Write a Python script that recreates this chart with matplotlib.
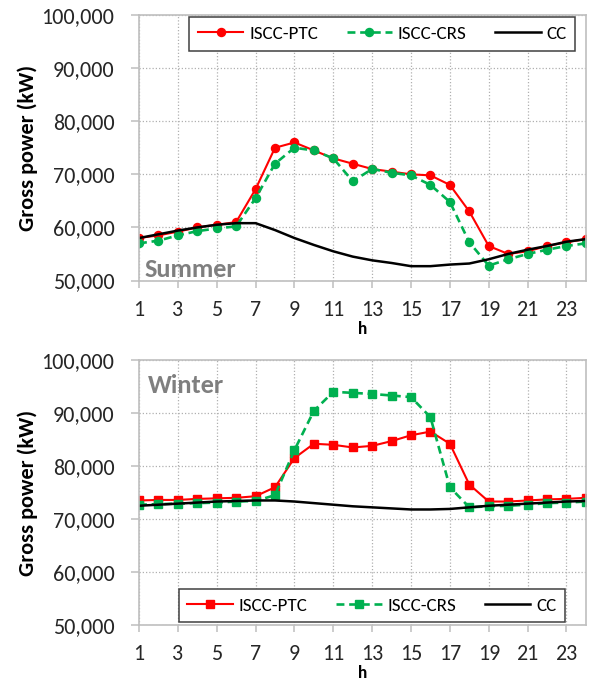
import numpy as np
import matplotlib.pyplot as plt
from matplotlib import font_manager as fm
from matplotlib.ticker import FuncFormatter

# ---- datos ----
horas = np.arange(1, 25)

verano_ptc = [58000, 58500, 59200, 60000, 60500, 61000, 67200, 75000, 76000, 74500, 73000, 72000,
              71000, 70500, 70000, 69800, 68000, 63000, 56500, 55000, 55500, 56500, 57200, 57800]
verano_crs = [57000, 57500, 58500, 59300, 59800, 60200, 65500, 72000, 75000, 74500, 73000, 68700,
              71000, 70300, 69800, 68000, 64800, 57200, 52800, 54000, 55000, 55800, 56500, 57000]
verano_cc = [58000, 58700, 59400, 60000, 60500, 60800, 60800, 59500, 58000, 56700, 55500, 54500,
             53800, 53300, 52700, 52700, 53000, 53200, 54000, 55000, 55800, 56500, 57300, 57800]

invierno_ptc = [73500, 73600, 73600, 73800, 73900, 74000, 74300, 76000, 81500, 84200, 84000, 83500,
                83800, 84700, 85800, 86500, 84200, 76500, 73300, 73300, 73500, 73700, 73800, 74000]
invierno_crs = [72700, 72800, 72900, 73000, 73100, 73300, 73400, 74500, 83000, 90400, 94000, 93800,
                93600, 93300, 93000, 89200, 76000, 72200, 72400, 72500, 72700, 73000, 73100, 73300]
invierno_cc = [72500, 72700, 72900, 73100, 73300, 73400, 73500, 73500, 73300, 73000, 72700, 72400,
               72200, 72000, 71800, 71800, 71900, 72200, 72500, 72700, 72900, 73100, 73300, 73400]

ROJO = '#FF0000'
VERDE = '#00B050'
GRIS = '#BFBFBF'

# Carlito si existe (metricas de Calibri), si no Open Sans algo mas pequena
instaladas = {f.name for f in fm.fontManager.ttflist}
if 'Carlito' in instaladas:
    plt.rcParams['font.family'] = ['Carlito', 'DejaVu Sans']
    k = 1.0
else:
    plt.rcParams['font.family'] = ['Open Sans', 'DejaVu Sans']
    k = 0.86

fig = plt.figure(figsize=(5.97, 6.83), dpi=100)
ax1 = fig.add_axes([0.2328, 0.5893, 0.7486, 0.3887])
ax2 = fig.add_axes([0.2328, 0.0849, 0.7486, 0.3880])

fmt = FuncFormatter(lambda v, p: f"{int(v):,}")


def estilo(ax):
    ax.set_xlim(1, 24)
    ax.set_ylim(50000, 100000)
    ax.set_xticks(np.arange(1, 24, 2))
    ax.set_yticks(np.arange(50000, 100001, 10000))
    ax.yaxis.set_major_formatter(fmt)
    ax.grid(True, linestyle=(0, (1, 1.6)), color='#B0B0B0', linewidth=0.9)
    ax.set_axisbelow(True)
    for s in ax.spines.values():
        s.set_color(GRIS)
        s.set_linewidth(1.2)
    ax.tick_params(axis='y', length=5.8, width=1.1, color=GRIS, labelsize=15.8 * k, pad=12,
                   labelcolor='#262626')
    ax.tick_params(axis='x', length=5, width=1.1, color=GRIS, labelsize=15.8 * k, pad=9,
                   labelcolor='#262626')
    ax.set_xlabel('h', fontsize=12.5 * k, fontweight='bold', va='center')
    ax.xaxis.set_label_coords(0.5, -0.181)
    ax.set_ylabel('Gross power (kW)', fontsize=16 * k, fontweight='bold', va='center')
    ax.yaxis.set_label_coords(-0.25, 0.5)


def leyenda(ax, x, y, loc):
    ax.legend(loc=loc, bbox_to_anchor=(x, y), ncol=3, fontsize=13.7 * k, frameon=True,
              fancybox=False, edgecolor='#404040', framealpha=1, handlelength=2.4,
              columnspacing=1.5, handletextpad=0.3, borderpad=0.45, borderaxespad=0)
    ax.get_legend().get_frame().set_linewidth(1.1)


# ---- verano ----
ax1.plot(horas, verano_ptc, '-', color=ROJO, marker='o', markersize=5.8, lw=1.5, label='ISCC-PTC')
ax1.plot(horas, verano_crs, color=VERDE, marker='o', markersize=5.8, lw=1.9, dashes=(3, 1.8),
         label='ISCC-CRS')
ax1.plot(horas, verano_cc, '-', color='black', lw=1.8, label='CC')
estilo(ax1)
ax1.text(1.31, 50660, 'Summer', fontsize=19 * k, fontweight='bold', color='#7F7F7F', va='baseline')
leyenda(ax1, 0.5446, 0.992, 'upper center')

# ---- invierno ----
ax2.plot(horas, invierno_ptc, '-', color=ROJO, marker='s', markersize=5.5, lw=1.5, label='ISCC-PTC')
ax2.plot(horas, invierno_crs, color=VERDE, marker='s', markersize=5.5, lw=1.9, dashes=(3, 1.8),
         label='ISCC-CRS')
ax2.plot(horas, invierno_cc, '-', color='black', lw=1.8, label='CC')
estilo(ax2)
ax2.text(1.47, 93700, 'Winter', fontsize=19 * k, fontweight='bold', color='#7F7F7F', va='baseline')
leyenda(ax2, 0.521, 0.011, 'lower center')

fig.savefig('out.png', dpi=100)
